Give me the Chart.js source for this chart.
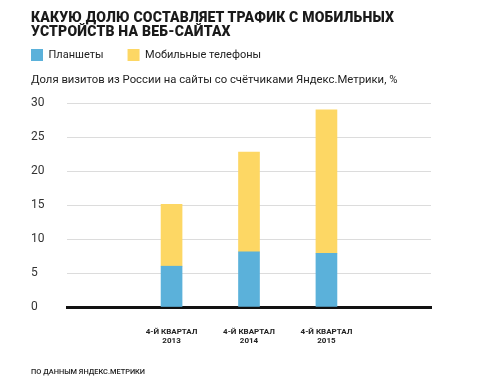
<!DOCTYPE html>
<html><head><meta charset="utf-8">
<script src="https://cdn.jsdelivr.net/npm/chart.js@4/dist/chart.umd.min.js"></script>
<style>
html,body{margin:0;padding:0;background:#fff;}
#wrap{position:relative;width:500px;height:384px;overflow:hidden;}
canvas{position:absolute;left:0;top:0;}
.t{position:absolute;left:31px;top:10px;font:900 14px/14px "Roboto";letter-spacing:0.2px;color:#1a1a1a;white-space:nowrap;}
.cap{position:absolute;left:31px;top:72px;font:400 11.3px/16px "Roboto";color:#222;white-space:nowrap;}
.src{position:absolute;left:31px;top:366px;font:500 7.4px/12px "Roboto";color:#222;white-space:nowrap;}
</style></head><body>
<div id="wrap"><canvas id="c" width="500" height="384"></canvas>
<div class="t">КАКУЮ ДОЛЮ СОСТАВЛЯЕТ ТРАФИК С МОБИЛЬНЫХ<br>УСТРОЙСТВ НА ВЕБ-САЙТАХ</div>
<div class="cap">Доля визитов из России на сайты со счётчиками Яндекс.Метрики, %</div>
<div class="src">ПО ДАННЫМ ЯНДЕКС.МЕТРИКИ</div>
</div>
<script>
const categories = [["4-Й КВАРТАЛ", "2013"], ["4-Й КВАРТАЛ", "2014"], ["4-Й КВАРТАЛ", "2015"]];
const tablets = [6.0, 8.1, 7.9];
const phones = [9.1, 14.7, 21.1];
const seriesNames = ["Планшеты", "Мобильные телефоны"];
const yTicks = [0, 5, 10, 15, 20, 25, 30];

const toPts = arr => arr.map((v, i) => ({x: i, y: v}));

new Chart(document.getElementById('c'), {
  type: 'bar',
  data: {
    datasets: [
      {label: seriesNames[0], data: toPts(tablets), backgroundColor: '#5bb1da', barThickness: 21, xAxisID: 'x', yAxisID: 'y'},
      {label: seriesNames[1], data: toPts(phones), backgroundColor: '#fdd764', barThickness: 21, xAxisID: 'x', yAxisID: 'y'}
    ]
  },
  options: {
    responsive: false,
    animation: false,
    layout: {padding: {left: 7, right: 69, top: 25, bottom: 0}},
    plugins: {
      legend: {
        align: 'start',
        labels: {boxWidth: 12, boxHeight: 12, padding: 24, color: '#222', font: {family: 'Roboto', size: 11}}
      },
      tooltip: {enabled: false}
    },
    scales: {
      x: {
        type: 'linear', stacked: true, min: -1.35, max: 3.35, offset: false,
        grid: {display: false, drawTicks: false, offset: false},
        border: {display: true, color: '#111', width: 3},
        afterBuildTicks: s => { s.ticks = categories.map((c, i) => ({value: i})); },
        ticks: {
          autoSkip: false, maxRotation: 0, padding: 20, color: '#222',
          font: {family: 'Roboto', size: 8, weight: 'bold'},
          callback: v => categories[v]
        },
        afterFit: s => { s.height = 77; }
      },
      y: {
        stacked: true, min: 0, max: 30,
        afterBuildTicks: s => { s.ticks = yTicks.map(v => ({value: v})); },
        grid: {drawTicks: false, color: c => (c.tick && c.tick.value === 0) ? 'rgba(0,0,0,0)' : '#dcdcdc', lineWidth: 1},
        border: {display: false},
        ticks: {crossAlign: 'far', color: '#333', font: {family: 'Roboto', size: 12}},
        afterFit: s => { s.width = 36; }
      },
      yPad: {
        type: 'linear', position: 'left', weight: 1, display: true,
        grid: {display: false}, border: {display: false}, ticks: {display: false},
        afterFit: s => { s.width = 24; }
      },
      xPad: {
        type: 'linear', position: 'top', display: true,
        grid: {display: false}, border: {display: false}, ticks: {display: false},
        afterFit: s => { s.height = 32; }
      }
    }
  }
});
</script>
</body></html>
